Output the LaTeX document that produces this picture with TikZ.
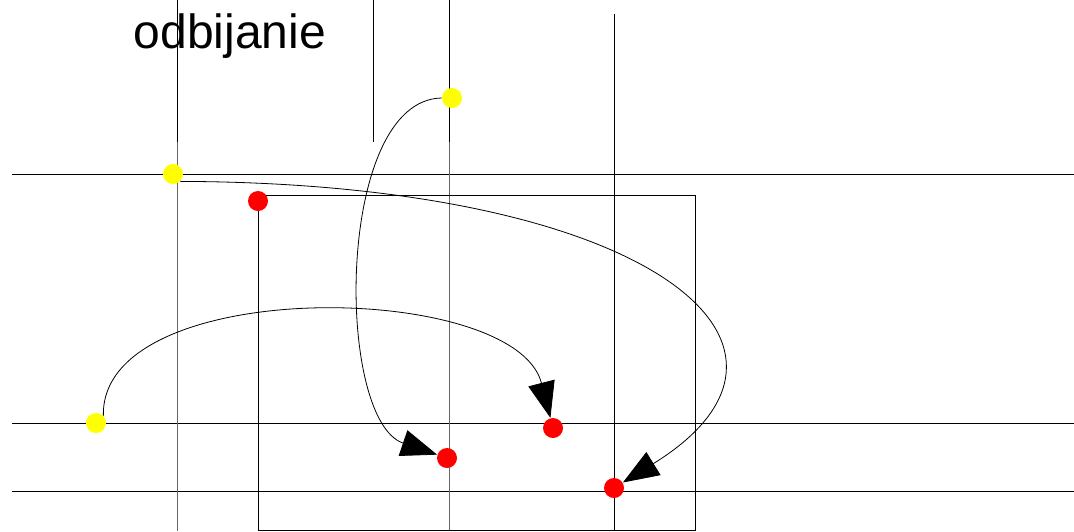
\documentclass[tikz,border=0pt]{standalone}
\usepackage{fontspec}
\setmainfont{Liberation Sans}
\usepackage{tikz}
\usetikzlibrary{arrows.meta}
\definecolor{Dot}{HTML}{FFFF00}
\definecolor{Hit}{HTML}{FF0000}

\begin{document}
\begin{tikzpicture}[x=1pt,y=-1pt,line width=0.9pt,
  grid/.style={black},
  fade/.style={black!60},
  ydot/.style={circle,fill=Dot,inner sep=0pt,minimum size=20pt},
  rdot/.style={circle,fill=Hit,inner sep=0pt,minimum size=20pt},
  arr/.style={line width=0.8pt,-{Triangle[length=36pt,width=27pt]}}]
  \useasboundingbox (0,0) rectangle (1074,531);
  % grid lines
  \draw[grid] (12,174) -- (1074,174);
  \draw[grid] (12,423) -- (1074,423);
  \draw[grid] (12,491) -- (1074,491);
  \draw[grid] (177,0) -- (177,142);
  \draw[fade] (177,142) -- (177,531);
  \draw[grid] (373,0) -- (373,142);
  \draw[grid] (449,0) -- (449,142);
  \draw[fade] (449,142) -- (449,531);
  \draw[grid] (614,14) -- (614,531);
  \draw[grid] (258,530) -- (258,195) -- (695,195) -- (695,530) -- cycle;
  % title
  \node[anchor=base,font=\fontsize{48}{50}\selectfont] (title) at (230,48) {odbijanie};
  % points
  \node[ydot] (y1) at (173,174) {};
  \node[ydot] (y2) at (452,98) {};
  \node[ydot] (y3) at (96,423) {};
  \node[rdot] (r1) at (258,201) {};
  \node[rdot] (r2) at (447,458) {};
  \node[rdot] (r3) at (553,428) {};
  \node[rdot] (r4) at (614,488) {};
  % paths
  \draw[arr] (y2.west) .. controls (335,100) and (335,420) .. (r2);
  \draw[arr] (y1.south east) .. controls (650,183) and (845,345) .. (r4);
  \draw[arr] (y3.north east) .. controls (100,275) and (515,280) .. (r3);
\end{tikzpicture}
\end{document}
